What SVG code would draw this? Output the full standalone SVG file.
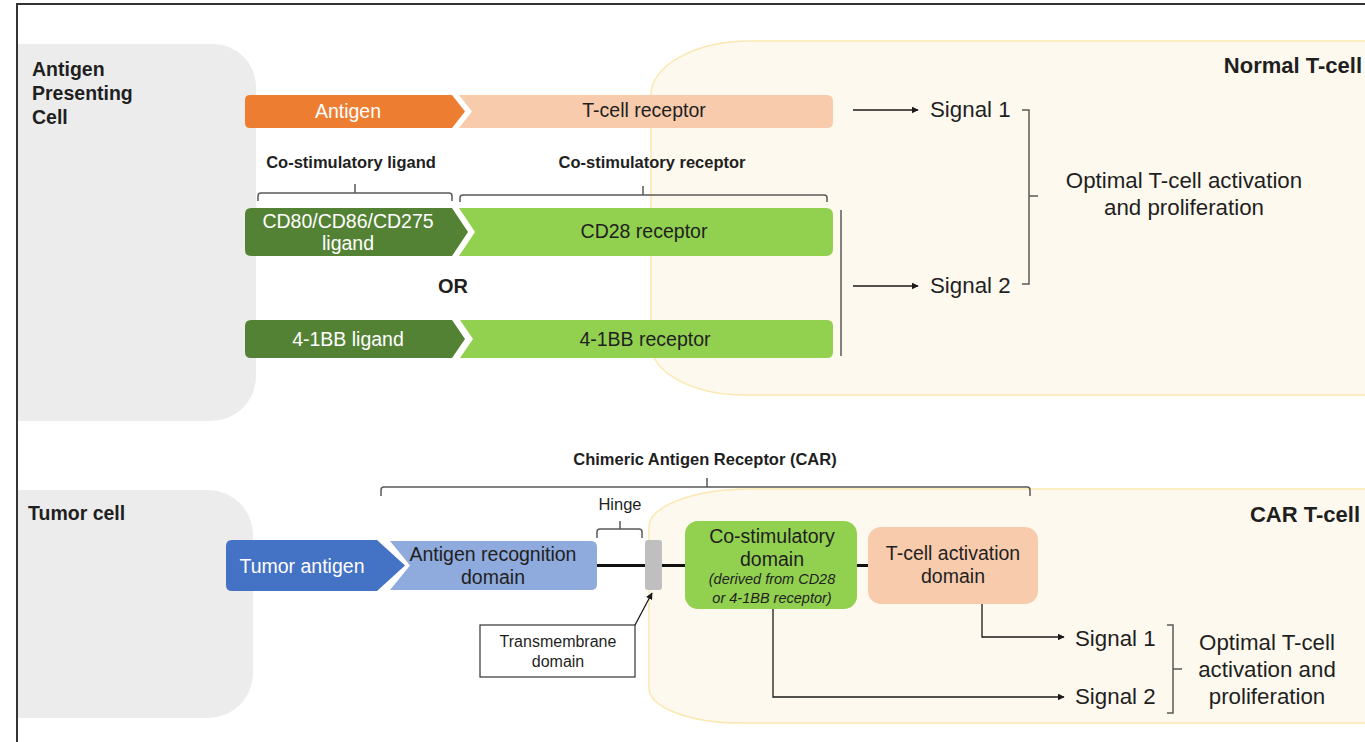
<svg xmlns="http://www.w3.org/2000/svg" width="1365" height="742" viewBox="0 0 1365 742">
<defs>
<marker id="ah" viewBox="0 0 10 10" refX="9" refY="5" markerWidth="7" markerHeight="7" markerUnits="userSpaceOnUse" orient="auto"><path d="M0,0 L10,5 L0,10 Z" fill="#1a1a1a"/></marker>
<style>
text{font-family:"Liberation Sans",Arial,sans-serif;fill:#1f1f1f}
.h{font-weight:bold;font-size:19.5px}
.hd{font-weight:bold;font-size:22px}
.sm{font-weight:bold;font-size:16.5px}
.bx{font-size:19.5px;text-anchor:middle}
.w{fill:#fff}
.sig{font-size:22.3px}
.br{fill:none;stroke:#595959;stroke-width:1.5}
.ln{fill:none;stroke:#1a1a1a;stroke-width:1.3}
.cell{fill:#ececec}
.tc{fill:#fef9ee;stroke:#fbe7b0;stroke-width:1.5}
</style>
</defs>
<rect width="1365" height="742" fill="#fff"/>
<path d="M17,742 V4 H1365" fill="none" stroke="#333" stroke-width="2"/>

<g id="apc"><path class="cell" d="M18,44 H213 A43,43 0 0 1 256,87 V376 A45,45 0 0 1 211,421 H18 Z"/>
<text class="h" x="32" y="76">Antigen</text><text class="h" x="32" y="100">Presenting</text><text class="h" x="32" y="124">Cell</text></g>
<g id="normal-tcell"><path class="tc" d="M1366,41 H750 A99,54 0 0 0 651,95 V345 A94,50 0 0 0 745,395 H1366"/>
<text class="hd" x="1362" y="73" text-anchor="end">Normal T-cell</text></g>
<g id="tumor"><path class="cell" d="M18,490 H208 A45,45 0 0 1 253,535 V673 A45,45 0 0 1 208,718 H18 Z"/>
<text class="h" x="28" y="520">Tumor cell</text></g>
<g id="car-tcell"><path class="tc" d="M1366,489 H750 A101,38 0 0 0 649,527 V688 A91,35 0 0 0 740,723 H1366"/>
<text class="hd" x="1360" y="522" text-anchor="end">CAR T-cell</text></g>

<g id="antigen"><path fill="#ed7d31" d="M250,95 H452 L465,111.5 L452,128 H250 Q245,128 245,123 V100 Q245,95 250,95 Z"/><text class="bx w" x="348" y="118">Antigen</text></g>
<g id="tcr"><path fill="#f8cbad" d="M459,95 H827 Q833,95 833,101 V122 Q833,128 827,128 H459 L472,111.5 Z"/><text class="bx" x="644" y="117">T-cell receptor</text></g>
<g id="cd80"><path fill="#548235" d="M251,208 H452 L468,232 L452,256 H251 Q245,256 245,250 V214 Q245,208 251,208 Z"/><text class="bx w" x="348" y="228">CD80/CD86/CD275</text><text class="bx w" x="348" y="250">ligand</text></g>
<g id="cd28"><path fill="#92d050" d="M459,208 H826 Q833,208 833,215 V249 Q833,256 826,256 H459 L475,232 Z"/><text class="bx" x="644" y="238">CD28 receptor</text></g>
<g id="bbl"><path fill="#548235" d="M251,320 H452 L465,339 L452,358 H251 Q245,358 245,352 V326 Q245,320 251,320 Z"/><text class="bx w" x="348" y="346">4-1BB ligand</text></g>
<g id="bbr"><path fill="#92d050" d="M460,320 H827 Q833,320 833,326 V352 Q833,358 827,358 H460 L473,339 Z"/><text class="bx" x="645" y="346">4-1BB receptor</text></g>

<g id="labels-top">
<text class="sm" x="351" y="168" text-anchor="middle">Co-stimulatory ligand</text>
<text class="sm" x="652" y="168" text-anchor="middle">Co-stimulatory receptor</text>
<text font-weight="bold" font-size="20px" x="453" y="293" text-anchor="middle">OR</text>
<text class="sig" x="930" y="117">Signal 1</text>
<text class="sig" x="930" y="293">Signal 2</text>
<text class="sig" x="1184" y="188" text-anchor="middle">Optimal T-cell activation</text>
<text class="sig" x="1184" y="215" text-anchor="middle">and proliferation</text>
</g>

<g id="tumor-antigen"><path fill="#4472c4" d="M232,540 H377 L405,565.5 L377,591 H232 Q226,591 226,585 V546 Q226,540 232,540 Z"/><text class="bx w" x="302" y="573">Tumor antigen</text></g>
<g id="ard"><path fill="#8faadc" d="M390,541 H591 Q597,541 597,547 V584 Q597,590 591,590 H390 L410,565.5 Z"/><text class="bx" x="493" y="561">Antigen recognition</text><text class="bx" x="493" y="584">domain</text></g>
<g id="tm"><rect x="645" y="540" width="17" height="50" rx="3" fill="#bfbfbf"/></g>
<g id="costim"><rect x="685" y="521" width="172" height="88" rx="13" fill="#92d050"/>
<text class="bx" x="772" y="543">Co-stimulatory</text><text class="bx" x="772" y="566">domain</text>
<text x="772" y="584" font-size="14.5px" font-style="italic" text-anchor="middle">(derived from CD28</text>
<text x="772" y="603" font-size="14.5px" font-style="italic" text-anchor="middle">or 4-1BB receptor)</text></g>
<g id="tact"><rect x="868" y="527" width="170" height="77" rx="13" fill="#f8cbad"/>
<text class="bx" x="953" y="560">T-cell activation</text><text class="bx" x="953" y="583">domain</text></g>
<g id="tm-label"><rect x="480" y="625" width="155" height="52" fill="#fff" stroke="#333" stroke-width="1.2"/>
<text x="558" y="647" font-size="16px" text-anchor="middle">Transmembrane</text><text x="558" y="667" font-size="16px" text-anchor="middle">domain</text></g>

<g id="labels-car">
<text x="705" y="465" font-weight="bold" font-size="16.5px" text-anchor="middle">Chimeric Antigen Receptor (CAR)</text>
<text x="620" y="510" font-size="16.5px" text-anchor="middle">Hinge</text>
<text class="sig" x="1075" y="646">Signal 1</text>
<text class="sig" x="1075" y="704">Signal 2</text>
<text class="sig" x="1267" y="650" text-anchor="middle">Optimal T-cell</text>
<text class="sig" x="1267" y="677" text-anchor="middle">activation and</text>
<text class="sig" x="1267" y="704" text-anchor="middle">proliferation</text>
</g>

<g id="connectors">
<path class="br" d="M258,201 V196 Q258,193 261,193 H449 Q452,193 452,196 V201 M355,193 V184"/>
<path class="br" d="M460,202 V198 Q460,195 463,195 H824 Q827,195 827,198 V202 M643,195 V186"/>
<path class="br" d="M841,210 V356"/>
<path class="ln" d="M853,110 H918" marker-end="url(#ah)"/>
<path class="ln" d="M853,286 H918" marker-end="url(#ah)"/>
<path class="br" d="M1022,110 H1029 V284 H1022 M1029,196 H1038"/>
<path class="br" d="M381,496 V490 Q381,487 384,487 H1027 Q1030,487 1030,490 V496 M707,487 V478"/>
<path class="br" d="M597,538 V532 Q597,529 600,529 H639 Q642,529 642,532 V538 M620,529 V521"/>
<path d="M597,565.5 H645 M662,565.5 H685 M857,565.5 H868" stroke="#111" stroke-width="3" fill="none"/>
<path class="ln" d="M635,625 L652,593" marker-end="url(#ah)"/>
<path class="ln" d="M982,604 V637 H1064" marker-end="url(#ah)" stroke="#444"/>
<path class="ln" d="M773,609 V697 H1064" marker-end="url(#ah)" stroke="#444"/>
<path class="br" d="M1167,625 H1173 V713 H1167 M1173,669 H1182"/>
</g>
</svg>
